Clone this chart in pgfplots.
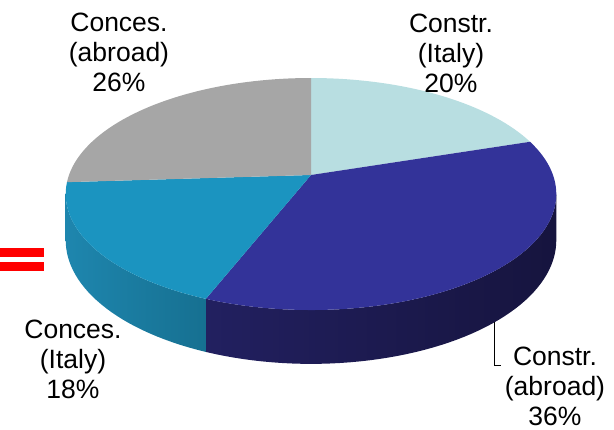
\documentclass[border=0pt]{standalone}
\usepackage{pgfplots}
\pgfplotsset{compat=1.18}
\usepackage{pgfplotstable}
\usepackage{fontspec}
\setmainfont{Liberation Sans}

\definecolor{cIt}{RGB}{184,222,225}
\definecolor{cAb}{RGB}{51,51,153}
\definecolor{cAbSideL}{RGB}{34,32,96}
\definecolor{cAbSideR}{RGB}{22,20,62}
\definecolor{kIt}{RGB}{27,148,192}
\definecolor{kItSideL}{RGB}{30,134,174}
\definecolor{kItSideR}{RGB}{22,112,145}
\definecolor{kAb}{RGB}{166,166,166}

\pgfplotstableread{
label value
ConstrItaly 20
ConstrAbroad 36
ConcesItaly 18
ConcesAbroad 26
}\piedata

% geometry of the perspective disc (picture units = pixels)
\def\cx{311}\def\cy{175}\def\RR{242}\def\SS{112.9}\def\kk{0.164}\def\DD{45}

\newcommand\addarc[3]{%
  \pgfmathtruncatemacro\steps{max(2,ceil(abs(#2-#1)/2))}%
  \foreach \i in {0,...,\steps}{%
    \pgfmathsetmacro\th{#1+(#2-#1)*\i/\steps}%
    \pgfmathsetmacro\den{1+\kk*sin(\th)}%
    \pgfmathsetmacro\X{\cx+\RR*cos(\th)/\den}%
    \pgfmathsetmacro\Y{\cy-\SS*sin(\th)/\den+#3*\DD/\den}%
    \xdef\pts{\pts(\X,\Y)}%
  }}

\begin{document}
\begin{tikzpicture}
\pgfplotstablegetelem{0}{value}\of\piedata \let\vA\pgfplotsretval
\pgfplotstablegetelem{1}{value}\of\piedata \let\vB\pgfplotsretval
\pgfplotstablegetelem{2}{value}\of\piedata \let\vC\pgfplotsretval
\pgfplotstablegetelem{3}{value}\of\piedata \let\vD\pgfplotsretval
\pgfmathsetmacro\aO{90}
\pgfmathsetmacro\aA{\aO-3.6*\vA}
\pgfmathsetmacro\aB{\aA-3.6*\vB}
\pgfmathsetmacro\aC{\aB-3.6*\vC}
\pgfmathsetmacro\aD{\aC-3.6*\vD}
\pgfmathsetmacro\thR{-asin(\kk)}
\pgfmathsetmacro\thL{-180+asin(\kk)}
% top wedges
\xdef\pts{(\cx,\cy)}\addarc{\aO}{\aA}{0}\global\let\topA\pts
\xdef\pts{(\cx,\cy)}\addarc{\aA}{\aB}{0}\global\let\topB\pts
\xdef\pts{(\cx,\cy)}\addarc{\aB}{\aC}{0}\global\let\topC\pts
\xdef\pts{(\cx,\cy)}\addarc{\aC}{\aD}{0}\global\let\topD\pts
% sides
\xdef\pts{}\addarc{\thR}{\aB}{0}\addarc{\aB}{\thR}{1}\global\let\sideB\pts
\xdef\pts{}\addarc{\aB}{\thL}{0}\addarc{\thL}{\aB}{1}\global\let\sideC\pts
\begin{axis}[width=614pt,height=430pt,scale only axis,
  xmin=0,xmax=614,ymin=0,ymax=430,y dir=reverse,hide axis,clip=false]
\path (axis cs:0,0) rectangle (axis cs:614,430);
\edef\cmd{\noexpand\addplot[draw=none,left color=cAbSideL,right color=cAbSideR] coordinates {\sideB} -- cycle;}\cmd
\edef\cmd{\noexpand\addplot[draw=none,left color=kItSideL,right color=kItSideR] coordinates {\sideC} -- cycle;}\cmd
\edef\cmd{\noexpand\addplot[draw=none,fill=cIt] coordinates {\topA} -- cycle;}\cmd
\edef\cmd{\noexpand\addplot[draw=none,fill=cAb] coordinates {\topB} -- cycle;}\cmd
\edef\cmd{\noexpand\addplot[draw=none,fill=kIt] coordinates {\topC} -- cycle;}\cmd
\edef\cmd{\noexpand\addplot[draw=none,fill=kAb] coordinates {\topD} -- cycle;}\cmd
\fill[red] (axis cs:0,248) rectangle (axis cs:44,257);
\fill[red] (axis cs:0,262) rectangle (axis cs:44,271);
\draw[black,line width=1pt] (axis cs:494,322) -- (axis cs:494,366) -- (axis cs:501,366);
\tikzset{lbl/.style={align=center,font=\fontsize{26.5}{30}\selectfont,inner sep=0pt}}
\node[lbl] at (axis cs:119,52) {Conces.\\(abroad)\\26\%};
\node[lbl] at (axis cs:451,53) {Constr.\\(Italy)\\20\%};
\node[lbl] at (axis cs:73,359) {Conces.\\(Italy)\\18\%};
\node[lbl] at (axis cs:555,386) {Constr.\\(abroad)\\36\%};
\end{axis}
\end{tikzpicture}
\end{document}
